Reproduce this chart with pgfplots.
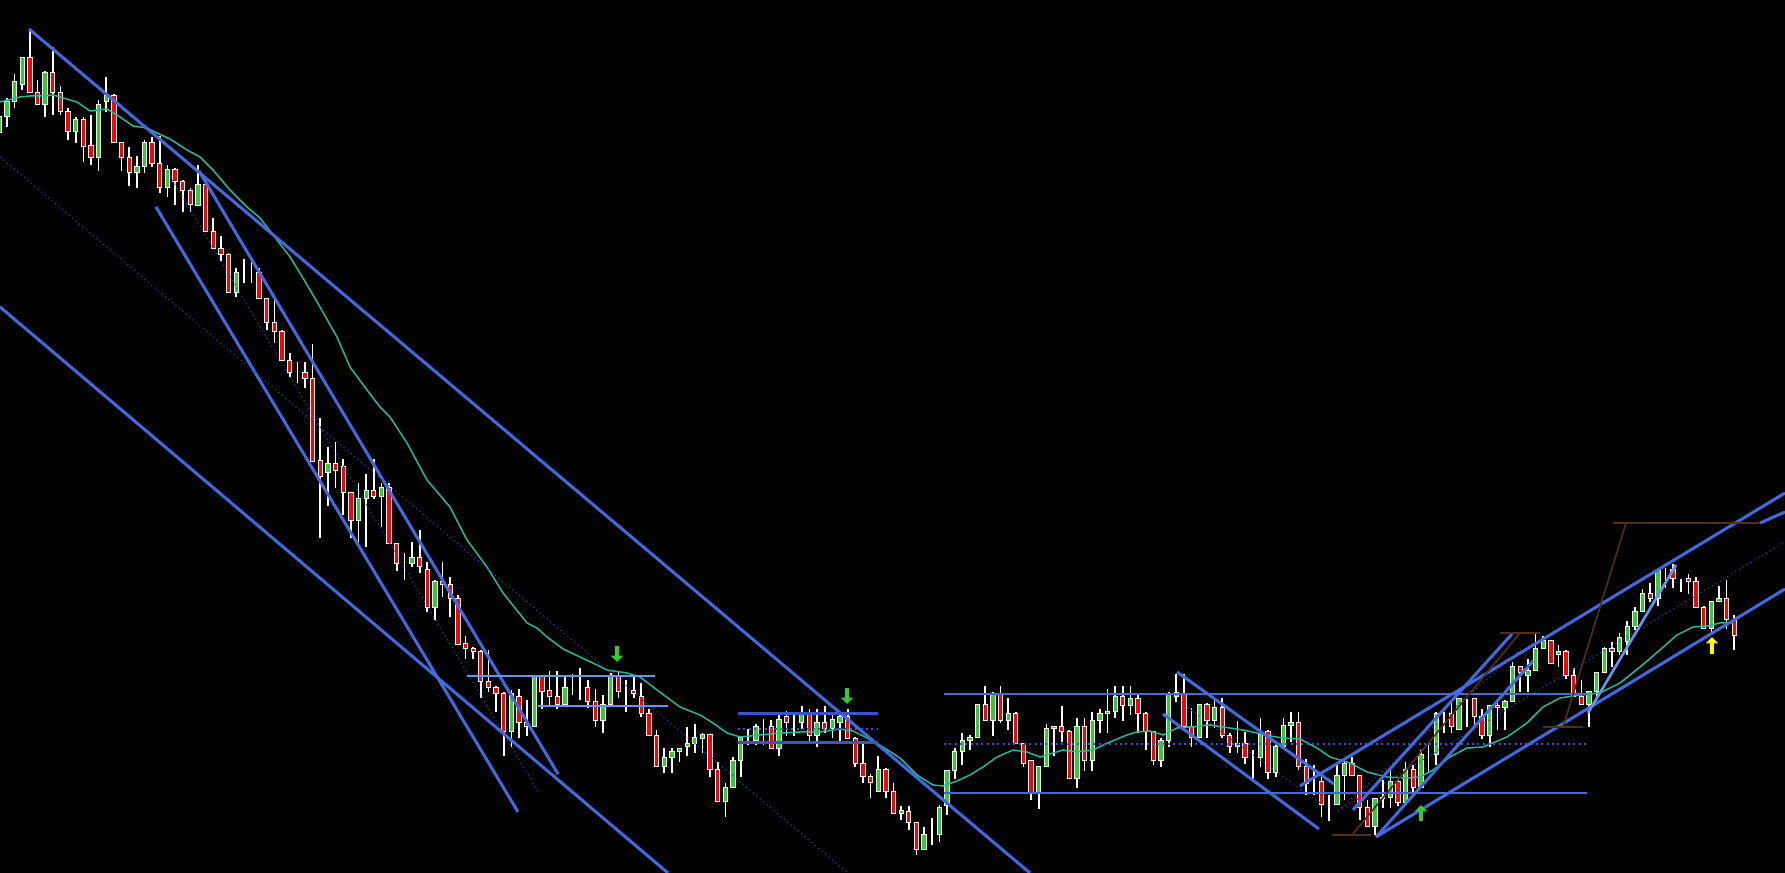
\documentclass[border=0pt]{standalone}
\usepackage{pgfplots}
\usepackage{pgfplotstable}
\pgfplotsset{compat=1.18}
\usetikzlibrary{arrows.meta}

\definecolor{up}{RGB}{50,205,50}
\definecolor{dn}{RGB}{255,0,0}
\definecolor{trend}{RGB}{65,105,225}
\definecolor{trendlt}{RGB}{100,149,237}
\definecolor{trenddk}{RGB}{55,85,200}
\definecolor{dotblue}{RGB}{45,65,170}
\definecolor{ma}{RGB}{35,185,155}
\definecolor{fib}{RGB}{80,48,18}
\definecolor{arrgreen}{RGB}{50,205,50}
\definecolor{arryellow}{RGB}{255,255,0}

% candles: index, open, high, low, close
\pgfplotstableread{
i O H L C
0 740 761 735 756
1 756 775 746 771
2 771 799 765 791
3 788 816 783 815
4 815 844 780 780
5 780 793 768 768
6 768 802 756 800
7 800 826 758 780
8 780 787 758 761
9 761 765 733 741
10 741 756 730 753
11 753 756 711 726
12 727 758 708 715
13 715 773 702 768
14 771 796 761 777
15 777 779 730 730
16 730 730 702 715
17 715 726 687 700
18 700 717 685 706
19 706 733 700 730
20 730 736 706 709
21 709 737 680 685
22 685 708 676 703
23 703 705 668 691
24 691 693 661 682
25 682 685 661 668
26 667 708 667 688
27 688 694 641 641
28 641 655 624 624
29 624 637 612 618
30 618 620 580 580
31 580 605 576 600
32 600 614 590 600
33 600 611 590 600
34 600 605 574 574
35 574 574 543 550
36 550 573 530 541
37 541 543 512 512
38 512 520 496 500
39 500 511 490 500
40 500 511 485 494
41 494 529 411 411
42 412 455 335 396
43 400 426 367 409
44 409 431 385 402
45 406 414 358 380
46 380 381 335 352
47 352 390 331 374
48 374 399 326 382
49 382 414 374 376
50 376 390 346 385
51 385 390 329 329
52 329 330 302 309
53 309 320 293 309
54 309 331 306 315
55 315 343 300 306
56 303 311 261 265
57 265 293 253 291
58 291 311 276 288
59 288 296 256 274
60 274 278 228 228
61 229 237 214 224
62 224 226 214 221
63 221 223 175 191
64 191 223 181 185
65 185 187 161 179
66 179 181 117 141
67 141 183 126 179
68 176 184 135 150
69 150 173 137 146
70 146 197 146 197
71 197 197 164 181
72 182 202 166 176
73 176 202 164 168
74 168 196 168 185
75 185 199 178 185
76 185 205 173 185
77 185 193 165 171
78 171 184 146 152
79 152 178 140 168
80 168 200 168 197
81 197 202 175 181
82 182 193 161 182
83 182 196 175 179
84 176 190 156 159
85 159 164 137 137
86 137 143 106 106
87 106 125 100 115
88 115 125 100 121
89 121 125 111 124
90 126 146 117 129
91 129 149 120 135
92 134 140 120 138
93 138 138 96 103
94 103 111 71 71
95 71 90 56 85
96 85 116 85 112
97 112 136 96 135
98 132 144 128 132
99 132 149 128 146
100 147 154 128 147
101 146 153 124 124
102 124 161 117 153
103 156 162 137 150
104 150 159 137 150
105 150 167 144 159
106 159 164 129 137
107 137 164 126 150
108 150 167 140 144
109 144 158 135 153
110 150 159 131 156
111 156 164 134 134
112 134 136 106 109
113 109 131 90 96
114 96 99 75 90
115 81 117 81 103
116 103 105 75 81
117 81 90 59 59
118 59 67 53 62
119 61 67 43 50
120 50 51 18 23
121 23 46 23 38
122 38 55 28 38
123 38 68 31 65
124 67 102 58 102
125 102 125 94 121
126 121 140 108 132
127 132 138 123 135
128 135 168 135 168
129 168 187 152 152
130 152 181 137 179
131 179 187 150 152
132 152 175 143 159
133 159 161 129 129
134 129 129 106 109
135 112 112 73 79
136 79 106 64 106
137 106 149 106 144
138 144 146 117 146
139 146 167 131 141
140 141 143 94 94
141 94 155 85 146
142 146 155 102 112
143 112 161 102 152
144 152 164 140 159
145 159 184 140 161
146 161 187 155 176
147 176 187 152 167
148 167 187 158 174
149 174 178 140 159
150 159 161 123 141
151 141 141 108 112
152 112 135 106 132
153 132 181 126 179
154 176 199 171 180
155 178 199 146 146
156 146 165 126 135
157 135 168 135 168
158 168 170 135 152
159 152 175 145 165
160 165 175 135 137
161 137 140 120 126
162 126 152 120 129
163 129 141 109 115
164 115 123 93 115
165 115 155 106 138
166 141 143 94 100
167 100 128 96 126
168 126 155 126 147
169 147 161 131 150
170 150 161 103 106
171 106 114 78 89
172 91 108 78 91
173 91 99 56 68
174 68 78 52 68
175 68 108 68 97
176 97 114 73 109
177 109 116 97 97
178 97 97 53 65
179 65 73 46 46
180 46 75 38 74
181 74 93 65 75
182 75 105 65 91
183 91 93 67 70
184 70 111 70 103
185 103 108 76 85
186 85 123 85 118
187 118 128 100 118
188 118 161 108 159
189 159 161 140 159
190 159 170 140 146
191 143 174 143 174
192 174 174 146 174
193 174 174 146 156
194 156 164 134 137
195 137 167 126 167
196 167 170 143 165
197 165 173 143 171
198 171 211 171 206
199 206 207 181 200
200 197 214 181 202
201 202 240 202 224
202 224 237 224 232
203 232 232 209 209
204 218 228 206 221
205 221 223 194 197
206 197 205 176 176
207 176 193 168 168
208 168 181 146 181
209 181 200 176 200
210 200 226 200 224
211 224 231 206 221
212 221 240 218 235
213 231 252 218 246
214 246 266 243 261
215 261 284 261 279
216 279 290 271 274
217 274 302 267 302
218 303 305 285 303
219 303 309 285 294
220 294 294 281 294
221 294 299 279 291
222 291 296 265 265
223 265 267 244 244
224 244 271 240 271
225 271 287 271 274
226 274 293 244 253
227 252 258 223 237
}\candles

\pgfplotsset{
  chart/.style={width=535.5pt, height=261.9pt, scale only axis,
    xmin=0, xmax=1785, ymin=0, ymax=873,
    axis line style={draw=none}, ticks=none},
  table/cx/.style={x expr={7.643*\thisrow{i}-0.7}},
}

\begin{document}
\begin{tikzpicture}
% wicks
\begin{axis}[chart, axis background/.style={fill=black}]
\addplot[draw=none, no markers,
  error bars/.cd, y dir=minus, y explicit, error mark=none,
  error bar style={line width=0.5pt, draw=white}]
  table[cx, y=H, y error minus expr={\thisrow{H}-\thisrow{L}}] {\candles};
\end{axis}
% bodies
\begin{axis}[chart, ybar stacked, bar width=1.3pt]
\addplot[draw=none, fill=none] table[cx, y expr={min(\thisrow{O},\thisrow{C})}] {\candles};
\addplot[draw=white, fill=dn, line width=0.3pt] table[cx, y expr={max(\thisrow{O}-\thisrow{C},0)}] {\candles};
\addplot[draw=white, fill=up, line width=0.3pt] table[cx, y expr={max(\thisrow{C}-\thisrow{O},0)}] {\candles};
\end{axis}
% moving average, trend lines, arrows
\begin{axis}[chart]
\addplot[ma, line width=0.45pt] coordinates {
(0,771)(20,776)(30,777)(43,777)(53,778)(63,775)(77,771)(90,762)(107,764)(120,756)
(133,747)(147,745)(157,740)(170,734)(187,723)(200,716)(213,703)(230,683)(247,666)(260,655)
(277,633)(290,616)(303,595)(320,566)(337,536)(350,506)(367,483)(380,466)(390,456)(407,430)
(427,393)(450,366)(467,333)(487,306)(503,280)(527,250)(537,245)(547,236)(563,224)(580,216)
(597,208)(607,203)(627,200)(640,196)(657,183)(680,166)(700,158)(713,150)(727,140)(740,136)
(760,138)(780,140)(800,141)(820,141)(840,144)(853,142)(867,135)(883,126)(900,115)(917,98)
(933,88)(943,87)(957,92)(970,98)(983,106)(997,116)(1013,123)(1027,121)(1040,116)(1053,120)
(1063,123)(1077,121)(1093,123)(1110,131)(1127,138)(1137,141)(1150,142)(1163,138)(1177,145)(1190,146)
(1210,148)(1223,146)(1243,143)(1257,140)(1270,137)(1283,135)(1300,134)(1317,125)(1330,116)(1350,110)
(1367,101)(1387,96)(1407,95)(1420,96)(1433,103)(1450,116)(1467,125)(1483,126)(1507,136)(1527,150)
(1543,166)(1560,175)(1580,178)(1600,180)(1620,190)(1640,206)(1660,223)(1677,238)(1693,246)(1707,247)
(1720,250)(1733,250)};
% long falling lines
\addplot[trend, line width=0.9pt] coordinates {(29,844) (1030,0)};
\addplot[trend, line width=0.9pt] coordinates {(0,566) (668,0)};
\addplot[trend, line width=0.9pt] coordinates {(156,666) (518,61)};
\addplot[trend, line width=0.9pt] coordinates {(199,702) (558,99)};
\addplot[dotblue, line width=0.35pt, densely dotted] coordinates {(0,716) (848,0)};
\addplot[dotblue, line width=0.35pt, densely dotted] coordinates {(170,697) (539,80)};
% first box
\addplot[trendlt, line width=0.8pt] coordinates {(467,197) (655,197)};
\addplot[trendlt, line width=0.8pt] coordinates {(538,167) (668,167)};
% second box
\addplot[trenddk, line width=0.9pt] coordinates {(738,159) (878,159)};
\addplot[trenddk, line width=0.6pt, densely dotted] coordinates {(738,144) (878,144)};
\addplot[trenddk, line width=0.9pt] coordinates {(738,130) (878,130)};
% range
\addplot[trend, line width=0.8pt] coordinates {(944,179) (1587,179)};
\addplot[trenddk, line width=0.6pt, densely dotted] coordinates {(944,129) (1587,129)};
\addplot[trend, line width=0.8pt] coordinates {(944,80) (1587,80)};
\addplot[trend, line width=0.9pt] coordinates {(1177,201) (1334,89)};
\addplot[trend, line width=0.9pt] coordinates {(1163,159) (1319,44)};
\addplot[dotblue, line width=0.35pt, densely dotted] coordinates {(1173,176) (1320,70)};
% rising channel
\addplot[trend, line width=0.9pt] coordinates {(1300,87) (1785,380)};
\addplot[trend, line width=0.9pt] coordinates {(1376,36) (1785,284)};
\addplot[dotblue, line width=0.35pt, densely dotted] coordinates {(1338,62) (1785,331)};
\addplot[dotblue, line width=0.35pt, densely dotted] coordinates {(1338,62) (1522,225)};
\addplot[trend, line width=0.9pt] coordinates {(1353,63) (1512,239)};
\addplot[trend, line width=0.9pt] coordinates {(1376,36) (1533,212)};
\addplot[trendlt, line width=0.8pt] coordinates {(1588,160) (1676,308)};
\addplot[trend, line width=0.9pt] coordinates {(1760,350) (1785,361)};
% fibonacci style lines
\addplot[fib, line width=0.5pt] coordinates {(1332,38) (1371,38)};
\addplot[fib, line width=0.5pt] coordinates {(1352,38) (1520,240)};
\addplot[fib, line width=0.5pt] coordinates {(1500,240) (1540,240)};
\addplot[fib, line width=0.5pt] coordinates {(1543,146) (1583,146)};
\addplot[fib, line width=0.5pt] coordinates {(1563,146) (1626,350)};
\addplot[fib, line width=0.5pt] coordinates {(1613,350) (1760,350)};
% arrows
\addplot[arrgreen, line width=1.2pt, -{Triangle[width=3.6pt, length=1.9pt]}] coordinates {(617,227) (617,211)};
\addplot[arrgreen, line width=1.2pt, -{Triangle[width=3.6pt, length=1.9pt]}] coordinates {(847,185) (847,169)};
\addplot[arrgreen, line width=1.2pt, -{Triangle[width=3.6pt, length=1.9pt]}] coordinates {(1421,52) (1421,68)};
\addplot[arryellow, line width=1.2pt, -{Triangle[width=3.6pt, length=1.9pt]}] coordinates {(1712,219) (1712,236)};
\end{axis}
\end{tikzpicture}
\end{document}
